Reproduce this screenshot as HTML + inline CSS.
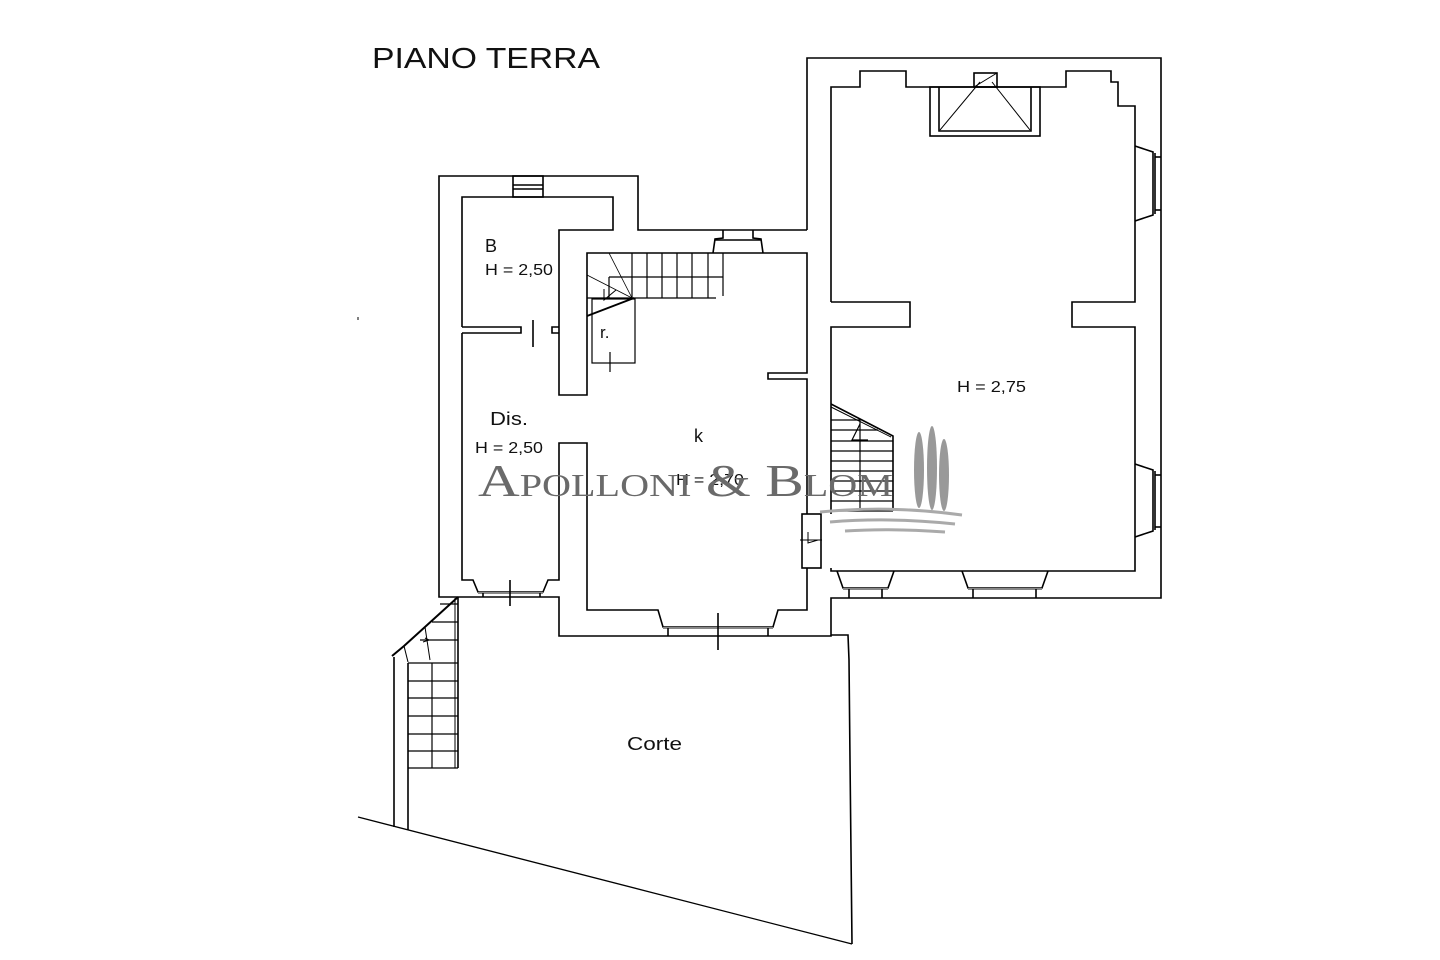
<!DOCTYPE html>
<html><head><meta charset="utf-8"><style>
html,body{margin:0;padding:0;background:#fff}
svg{display:block}
.t{font-family:"Liberation Sans",Arial,sans-serif;fill:#111}
.w{font-family:"Liberation Serif","Times New Roman",serif;fill:#6a6a6a;font-variant:small-caps}
</style></head><body>
<svg width="1440" height="960" viewBox="0 0 1440 960" xmlns="http://www.w3.org/2000/svg">
<rect width="1440" height="960" fill="#fff"/>
<g fill="none" stroke="#000" stroke-width="1.6">
<polyline points="807,230 807,58 1161,58 1161,598 831,598 831,636 559,636 559,597 439,597 439,176 638,176 638,230 807,230"/>
<polyline points="831,302 831,87 860,87 860,71 906,71 906,87 1066,87 1066,71 1111,71 1111,82 1118,82 1118,106 1135,106 1135,302 1072,302 1072,327 1135,327 1135,571 831,571 831,568"/>
<polyline points="831,514 831,327 910,327 910,302 831,302"/>
<rect x="930" y="87" width="110" height="49"/>
<polyline points="939,87 939,131 1031,131 1031,87"/>
<rect x="974" y="73" width="23" height="14"/>
<line x1="997" y1="73" x2="974" y2="87" stroke-width="1"/>
<line x1="980" y1="82" x2="940" y2="130" stroke-width="1"/>
<line x1="992" y1="82" x2="1030" y2="130" stroke-width="1"/>
<polyline points="1135,146 1153,152 1153,215 1135,221"/>
<polyline points="1155,153 1155,214"/><line x1="1155" y1="157" x2="1161" y2="157"/><line x1="1155" y1="210" x2="1161" y2="210"/>
<polyline points="1135,464 1153,470 1153,531 1135,537"/>
<polyline points="1155,471 1155,530"/><line x1="1155" y1="475" x2="1161" y2="475"/><line x1="1155" y1="527" x2="1161" y2="527"/>
<polyline points="837,571 843,588 888,588 894,571"/><line x1="843" y1="589" x2="888" y2="589" stroke="#888" stroke-width="2"/><line x1="849" y1="589" x2="849" y2="598"/><line x1="882" y1="589" x2="882" y2="598"/>
<polyline points="962,571 968,588 1042,588 1048,571"/><line x1="968" y1="589" x2="1042" y2="589" stroke="#888" stroke-width="2"/><line x1="973" y1="589" x2="973" y2="598"/><line x1="1036" y1="589" x2="1036" y2="598"/>
<rect x="802" y="514" width="19" height="54"/>
<line x1="800" y1="540" x2="822" y2="540" stroke-width="1"/>
<polyline points="808,532 808,543 818,540" stroke-width="1"/>
<polyline points="831,404 893,436 893,511"/>
<line x1="831" y1="407" x2="891" y2="437" stroke-width="1"/>
<g stroke-width="1.2">
<line x1="860" y1="420" x2="860" y2="511"/>
<line x1="831" y1="420" x2="860" y2="420"/>
<line x1="831" y1="430" x2="878" y2="430"/>
<line x1="831" y1="441" x2="893" y2="441"/>
<line x1="831" y1="451" x2="893" y2="451"/>
<line x1="831" y1="461" x2="893" y2="461"/>
<line x1="831" y1="471" x2="893" y2="471"/>
<line x1="831" y1="481" x2="893" y2="481"/>
<line x1="831" y1="491" x2="893" y2="491"/>
<line x1="831" y1="501" x2="893" y2="501"/>
<line x1="831" y1="511" x2="893" y2="511"/>
<polyline points="860,424 852,440 868,440"/>
</g>
<polyline points="462,327 462,197 613,197 613,230 559,230 559,395 587,395 587,253 807,253 807,373 768,373 768,379 807,379 807,514"/>
<polyline points="462,333 462,580 473,580 478,592 543,592 548,580 559,580 559,443 587,443 587,610 658,610 663,627 773,627 778,610 807,610 807,568"/>
<polyline points="462,327 521,327 521,333 462,333"/>
<polyline points="559,327 552,327 552,333 559,333"/>
<line x1="533" y1="320" x2="533" y2="347"/>
<line x1="478" y1="593" x2="543" y2="593" stroke="#888" stroke-width="2"/>
<line x1="483" y1="593" x2="483" y2="597"/><line x1="540" y1="593" x2="540" y2="597"/>
<line x1="510" y1="580" x2="510" y2="606"/>
<line x1="663" y1="628" x2="773" y2="628" stroke="#888" stroke-width="2"/>
<line x1="668" y1="628" x2="668" y2="636"/><line x1="768" y1="628" x2="768" y2="636"/>
<line x1="718" y1="613" x2="718" y2="650"/>
<rect x="513" y="176" width="30" height="21"/>
<line x1="513" y1="185" x2="543" y2="185"/><line x1="513" y1="189" x2="543" y2="189"/>
<polyline points="723,230 723,238 715,239 713,253"/>
<polyline points="753,230 753,238 761,239 763,253"/>
<line x1="715" y1="240" x2="761" y2="240"/>
<g stroke-width="1.2">
<line x1="587" y1="298" x2="716" y2="298"/>
<line x1="609" y1="277" x2="723" y2="277"/>
<line x1="609" y1="277" x2="609" y2="298"/>
<line x1="723" y1="253" x2="723" y2="296"/>
<line x1="632" y1="253" x2="632" y2="298"/><line x1="647" y1="253" x2="647" y2="298"/><line x1="662" y1="253" x2="662" y2="298"/><line x1="677" y1="253" x2="677" y2="298"/><line x1="692" y1="253" x2="692" y2="298"/><line x1="708" y1="253" x2="708" y2="298"/>
<line x1="609" y1="253" x2="632" y2="298" stroke-width="0.8"/>
<line x1="587" y1="275" x2="632" y2="298" stroke-width="0.8"/>
<line x1="587" y1="316" x2="634" y2="298" stroke-width="2"/>
<polyline points="604,289 604,300 616,290" stroke-width="1"/>
<rect x="592" y="299" width="43" height="64"/>
<line x1="610" y1="352" x2="610" y2="372"/>
</g>
<line x1="458" y1="597" x2="458" y2="768"/>
<line x1="455" y1="598" x2="455" y2="768" stroke-width="1"/>
<line x1="408" y1="663" x2="408" y2="830"/>
<line x1="394" y1="657" x2="394" y2="827"/>
<polyline points="392,656 404,646 458,597" stroke-width="2"/>
<polyline points="404,646 408,662" stroke-width="1"/>
<polyline points="425,627 430,660" stroke-width="1"/>
<polyline points="425,638 429,640 423,642" stroke-width="1"/>
<g stroke-width="1.2">
<line x1="432" y1="663" x2="432" y2="768"/>
<line x1="408" y1="663" x2="458" y2="663"/><line x1="408" y1="681" x2="458" y2="681"/><line x1="408" y1="698" x2="458" y2="698"/><line x1="408" y1="716" x2="458" y2="716"/><line x1="408" y1="734" x2="458" y2="734"/><line x1="408" y1="751" x2="458" y2="751"/><line x1="408" y1="768" x2="458" y2="768"/>
<line x1="440" y1="604" x2="458" y2="604"/><line x1="432" y1="622" x2="458" y2="622"/><line x1="420" y1="640" x2="458" y2="640"/>
</g>
<polyline points="831,635 848,635 849,660 850,760 852,944"/>
<line x1="358" y1="817" x2="852" y2="944" stroke-width="1.3"/>
<line x1="358" y1="317" x2="358" y2="320" stroke-width="1"/>
</g>
<text class="t" x="372" y="68" font-size="29" textLength="228" lengthAdjust="spacingAndGlyphs">PIANO TERRA</text>
<text class="t" x="485" y="252" font-size="18">B</text>
<text class="t" x="485" y="275" font-size="16" textLength="68" lengthAdjust="spacingAndGlyphs">H = 2,50</text>
<text class="t" x="600" y="338" font-size="17">r.</text>
<text class="t" x="490" y="425" font-size="18" textLength="38" lengthAdjust="spacingAndGlyphs">Dis.</text>
<text class="t" x="475" y="453" font-size="16" textLength="68" lengthAdjust="spacingAndGlyphs">H = 2,50</text>
<text class="t" x="694" y="442" font-size="18">k</text>
<text class="t" x="676" y="485" font-size="16" textLength="68" lengthAdjust="spacingAndGlyphs">H = 2,70</text>
<text class="t" x="957" y="392" font-size="16" textLength="69" lengthAdjust="spacingAndGlyphs">H = 2,75</text>
<text class="t" x="627" y="750" font-size="18" textLength="55" lengthAdjust="spacingAndGlyphs">Corte</text>
<text class="w" x="478" y="496" font-size="46" textLength="415" lengthAdjust="spacingAndGlyphs">Apolloni &amp; Blom</text>
<g fill="#999">
<ellipse cx="919" cy="470" rx="5" ry="38"/>
<ellipse cx="932" cy="468" rx="5" ry="42"/>
<ellipse cx="944" cy="475" rx="5" ry="36"/>
</g>
<g fill="none" stroke="#aaa" stroke-width="3">
<path d="M820 512 Q890 505 962 515"/>
<path d="M830 522 Q890 517 955 524"/>
<path d="M845 531 Q890 528 945 532"/>
</g>
</svg>
</body></html>
